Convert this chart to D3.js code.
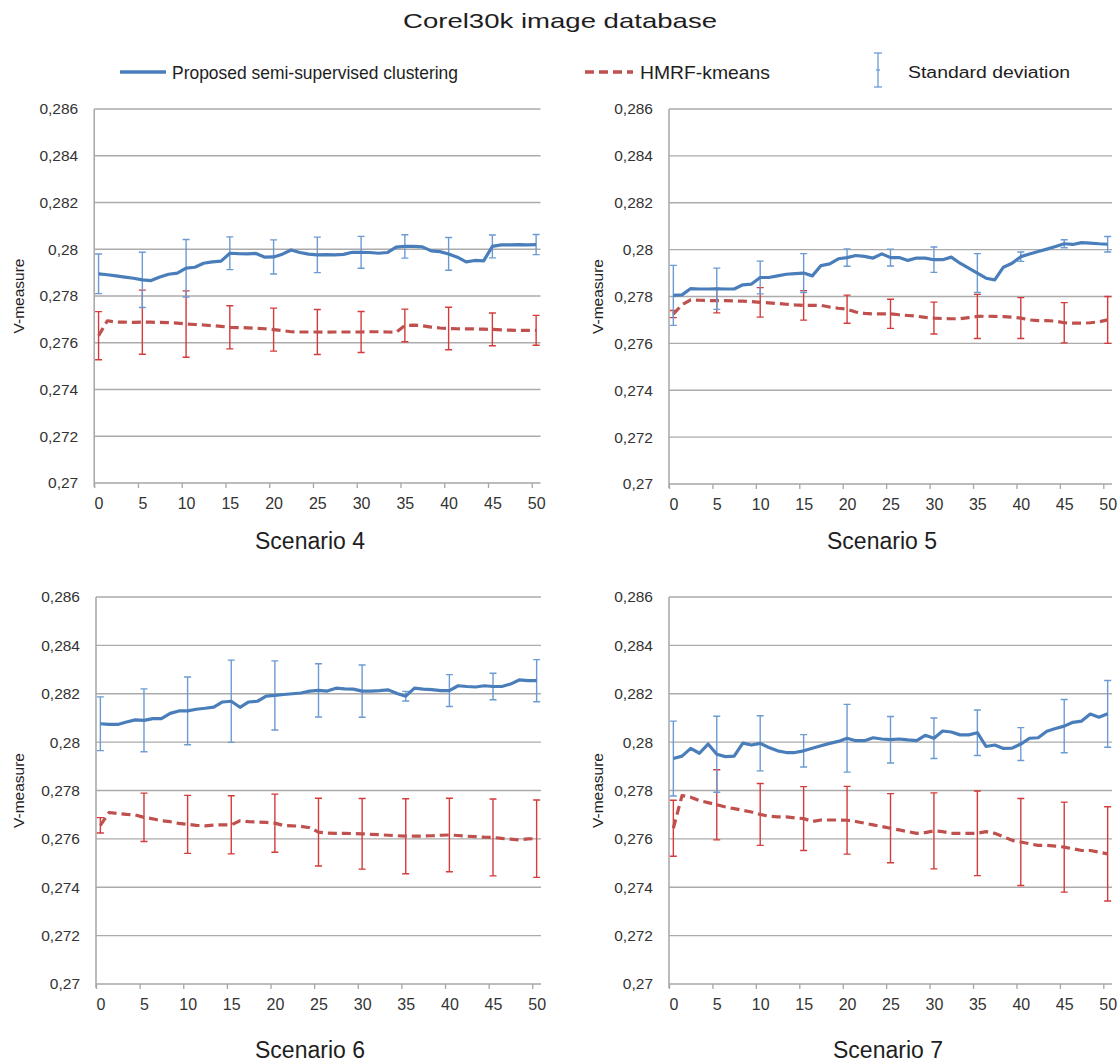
<!DOCTYPE html>
<html>
<head>
<meta charset="utf-8">
<script src="https://cdn.jsdelivr.net/npm/d3@7"></script>
<style>
  html, body { margin: 0; padding: 0; background: #fff; }
  svg { display: block; font-family: "Liberation Sans", Arial, sans-serif; }
</style>
</head>
<body>
<svg id="chart" width="1119" height="1063"></svg>
<script>
// ---- data ---------------------------------------------------------------
// number of constraints (x axis categories)
const steps = d3.range(0, 51);
// positions where standard-deviation bars are drawn
const errorSteps = [0, 5, 10, 15, 20, 25, 30, 35, 40, 45, 50];
const xTickLabels = ["0", "5", "10", "15", "20", "25", "30", "35", "40", "45", "50"];
const yTickValues = [0.27, 0.272, 0.274, 0.276, 0.278, 0.28, 0.282, 0.284, 0.286];
const yTickLabels = ["0,27", "0,272", "0,274", "0,276", "0,278", "0,28", "0,282", "0,284", "0,286"];
const scenarioNames = ["Scenario 4", "Scenario 5", "Scenario 6", "Scenario 7"];
const seriesNames = ["Proposed semi-supervised clustering", "HMRF-kmeans", "Standard deviation"];

// Scenario 4
const proposed4 = [0.27895, 0.27891, 0.27886, 0.27881, 0.27876, 0.27869, 0.27866, 0.27881, 0.27893, 0.27898,
  0.27919, 0.27923, 0.2794, 0.27946, 0.27949, 0.27983, 0.27981, 0.2798, 0.27982, 0.27966,
  0.27967, 0.27979, 0.27997, 0.27986, 0.27979, 0.27976, 0.27977, 0.27976, 0.27978, 0.27987,
  0.27987, 0.27986, 0.27983, 0.27986, 0.28009, 0.28012, 0.28012, 0.2801, 0.27993, 0.2799,
  0.2798, 0.27966, 0.27946, 0.27952, 0.2795, 0.28012, 0.28019, 0.28019, 0.2802, 0.28019, 0.2802];
const hmrf4 = [0.2763, 0.27694, 0.27688, 0.27688, 0.27687, 0.27688, 0.27688, 0.27687, 0.27686, 0.27684,
  0.2768, 0.27678, 0.27676, 0.27673, 0.2767, 0.27666, 0.27665, 0.27664, 0.27662, 0.2766,
  0.27656, 0.27652, 0.27647, 0.27646, 0.27646, 0.27646, 0.27645, 0.27646, 0.27646, 0.27646,
  0.27646, 0.27647, 0.27647, 0.27646, 0.27645, 0.27674, 0.27675, 0.27673, 0.27667, 0.27663,
  0.27661, 0.2766, 0.27659, 0.27659, 0.27658, 0.27657, 0.27655, 0.27654, 0.27653, 0.27653, 0.27653];
const proposedStd4 = [0.00085, 0.00118, 0.00123, 0.0007, 0.00073, 0.00076, 0.00068, 0.0005, 0.0007, 0.00049, 0.00043];
const hmrfStd4 = [0.00103, 0.00137, 0.00142, 0.00092, 0.00092, 0.00096, 0.00088, 0.0007, 0.00091, 0.0007, 0.00064];

// Scenario 5
const proposed5 = [0.27805, 0.27807, 0.27834, 0.27832, 0.27832, 0.27833, 0.27832, 0.27832, 0.2785, 0.27853,
  0.27881, 0.27881, 0.27888, 0.27895, 0.27898, 0.279, 0.27888, 0.27932, 0.27939, 0.27961,
  0.27966, 0.27975, 0.27971, 0.27964, 0.27982, 0.27966, 0.27966, 0.27954, 0.27964, 0.27964,
  0.27957, 0.27957, 0.27968, 0.27942, 0.27921, 0.279, 0.27878, 0.27871, 0.27925, 0.27942,
  0.2797, 0.27981, 0.27992, 0.28002, 0.28013, 0.28025, 0.28022, 0.2803, 0.28028, 0.28025, 0.28023];
const hmrf5 = [0.27725, 0.27765, 0.27786, 0.27784, 0.27783, 0.27782, 0.27782, 0.27781, 0.2778, 0.27778,
  0.27775, 0.27773, 0.2777, 0.27767, 0.27764, 0.27762, 0.27762, 0.27762, 0.27755, 0.2775,
  0.27746, 0.27734, 0.27728, 0.27726, 0.27726, 0.27726, 0.27722, 0.27719, 0.27716, 0.27711,
  0.27708, 0.27706, 0.27705, 0.27705, 0.2771, 0.27715, 0.27716, 0.27715, 0.27714, 0.27712,
  0.27708, 0.277, 0.27697, 0.27697, 0.27695, 0.27688, 0.27686, 0.27686, 0.27688, 0.27692, 0.277];
const proposedStd5 = [0.00128, 0.00088, 0.0007, 0.00083, 0.00037, 0.00036, 0.00054, 0.00083, 0.0002, 0.00017, 0.00033];
const hmrfStd5 = [0.00015, 0.00052, 0.00063, 0.00063, 0.0006, 0.00062, 0.00068, 0.00094, 0.00087, 0.00086, 0.001];

// Scenario 6
const proposed6 = [0.28076, 0.28073, 0.28073, 0.28083, 0.28092, 0.2809, 0.28097, 0.28097, 0.28119, 0.28129,
  0.28129, 0.28136, 0.2814, 0.28145, 0.28166, 0.28169, 0.28144, 0.28166, 0.28169, 0.2819,
  0.28193, 0.28197, 0.282, 0.28203, 0.28211, 0.28214, 0.28211, 0.28223, 0.2822, 0.28219,
  0.28211, 0.28211, 0.28213, 0.28216, 0.28201, 0.2819, 0.28223, 0.28219, 0.28217, 0.28213,
  0.28213, 0.28233, 0.2823, 0.28228, 0.28233, 0.2823, 0.2823, 0.2824, 0.28257, 0.28254, 0.28254];
const hmrf6 = [0.27656, 0.27709, 0.27705, 0.27701, 0.27699, 0.27689, 0.27683, 0.27675, 0.27671, 0.27664,
  0.2766, 0.27656, 0.27654, 0.27657, 0.27658, 0.27658, 0.27675, 0.27671, 0.2767, 0.27668,
  0.27665, 0.27655, 0.27654, 0.27652, 0.27646, 0.27628, 0.27624, 0.27623, 0.27623, 0.27622,
  0.27621, 0.27619, 0.27617, 0.27615, 0.27613, 0.27611, 0.27611, 0.27612, 0.27613, 0.27615,
  0.27616, 0.27614, 0.27611, 0.27609, 0.27607, 0.27606, 0.27602, 0.27599, 0.27596, 0.276, 0.27601];
const proposedStd6 = [0.00111, 0.0013, 0.0014, 0.0017, 0.00143, 0.0011, 0.00108, 0.0002, 0.00066, 0.00055, 0.00087];
const hmrfStd6 = [0.00032, 0.001, 0.0012, 0.0012, 0.0012, 0.0014, 0.00146, 0.00155, 0.00152, 0.00159, 0.0016];

// Scenario 7
const proposed7 = [0.27932, 0.27942, 0.27974, 0.27954, 0.27992, 0.2795, 0.2794, 0.27942, 0.27996, 0.27988,
  0.27995, 0.27978, 0.27964, 0.27957, 0.27957, 0.27964, 0.27975, 0.27985, 0.27995, 0.28003,
  0.28016, 0.28006, 0.28006, 0.28018, 0.28013, 0.2801, 0.28013, 0.28009, 0.28006, 0.28028,
  0.28016, 0.28046, 0.28042, 0.2803, 0.2803, 0.28039, 0.27982, 0.27988, 0.27974, 0.27975,
  0.27992, 0.28016, 0.28018, 0.28045, 0.28056, 0.28066, 0.28082, 0.28087, 0.28116, 0.28103, 0.28117];
const hmrf7 = [0.27644, 0.27779, 0.27772, 0.27758, 0.2775, 0.27741, 0.27732, 0.27725, 0.27718, 0.27711,
  0.27701, 0.27694, 0.27691, 0.27691, 0.27687, 0.27684, 0.27672, 0.27678, 0.27678, 0.27678,
  0.27677, 0.27672, 0.27665, 0.27658, 0.27651, 0.27644, 0.27637, 0.2763, 0.27623, 0.27626,
  0.27633, 0.2763, 0.27623, 0.27623, 0.27623, 0.27623, 0.2763, 0.27623, 0.27609, 0.27594,
  0.27587, 0.2758, 0.27573, 0.27573, 0.2757, 0.27566, 0.27559, 0.27552, 0.27552, 0.27545, 0.27538];
const proposedStd7 = [0.00155, 0.00157, 0.00114, 0.00067, 0.0014, 0.00096, 0.00084, 0.00094, 0.00068, 0.0011, 0.00138];
const hmrfStd7 = [0.00116, 0.00145, 0.00128, 0.00132, 0.0014, 0.00143, 0.00157, 0.00175, 0.0018, 0.00186, 0.00195];

// ---- styling / layout ----------------------------------------------------
const BLUE = "#4a7ebb", BLUE_ERR = "#6c9bd4";
const RED = "#c0504d", RED_ERR = "#d43b3b";
const GRID = "#ababab", AXIS = "#a6a6a6";
const TEXT = "#1e1e1e", TICK_TEXT = "#333333";

const panels = [
  { name: scenarioNames[0], proposed: proposed4, hmrf: hmrf4, pStd: proposedStd4, hStd: hmrfStd4,
    left: 94.2, right: 540.5, top: 109, bottom: 483, yLabelX: 18, titleX: 310, titleY: 549 },
  { name: scenarioNames[1], proposed: proposed5, hmrf: hmrf5, pStd: proposedStd5, hStd: hmrfStd5,
    left: 669, right: 1112, top: 109, bottom: 484, yLabelX: 597, titleX: 882, titleY: 549 },
  { name: scenarioNames[2], proposed: proposed6, hmrf: hmrf6, pStd: proposedStd6, hStd: hmrfStd6,
    left: 96, right: 541, top: 597, bottom: 984, yLabelX: 18, titleX: 310, titleY: 1058 },
  { name: scenarioNames[3], proposed: proposed7, hmrf: hmrf7, pStd: proposedStd7, hStd: hmrfStd7,
    left: 669, right: 1112, top: 597, bottom: 984, yLabelX: 597, titleX: 888, titleY: 1058 }
];

const svg = d3.select("#chart");

// ---- heading and legend -------------------------------------------------
svg.append("text")
  .attr("x", 560).attr("y", 28)
  .attr("text-anchor", "middle")
  .attr("font-size", 21).attr("fill", TEXT)
  .attr("textLength", 314).attr("lengthAdjust", "spacingAndGlyphs")
  .text("Corel30k image database");

const legend = svg.append("g");
legend.append("line").attr("x1", 120).attr("x2", 166).attr("y1", 72).attr("y2", 72)
  .attr("stroke", BLUE).attr("stroke-width", 3.5);
legend.append("text").attr("x", 172).attr("y", 79).attr("font-size", 19).attr("fill", TEXT)
  .attr("textLength", 286).attr("lengthAdjust", "spacingAndGlyphs").text(seriesNames[0]);
legend.append("line").attr("x1", 585).attr("x2", 633).attr("y1", 72).attr("y2", 72)
  .attr("stroke", RED).attr("stroke-width", 3.5).attr("stroke-dasharray", "9,5");
legend.append("text").attr("x", 640).attr("y", 79).attr("font-size", 19).attr("fill", TEXT)
  .attr("textLength", 130).attr("lengthAdjust", "spacingAndGlyphs").text(seriesNames[1]);
const lgErr = legend.append("g").attr("stroke", BLUE_ERR).attr("stroke-width", 1.3);
lgErr.append("line").attr("x1", 878).attr("x2", 878).attr("y1", 53).attr("y2", 87);
lgErr.append("line").attr("x1", 874).attr("x2", 882).attr("y1", 53).attr("y2", 53);
lgErr.append("line").attr("x1", 874).attr("x2", 882).attr("y1", 87).attr("y2", 87);
lgErr.append("line").attr("x1", 876).attr("x2", 880).attr("y1", 70).attr("y2", 70);
legend.append("text").attr("x", 908).attr("y", 78).attr("font-size", 16).attr("fill", TEXT)
  .attr("textLength", 162).attr("lengthAdjust", "spacingAndGlyphs").text(seriesNames[2]);

// ---- one panel per scenario ---------------------------------------------
panels.forEach(p => {
  const g = svg.append("g");
  const x = d3.scaleLinear().domain([-0.5, 50.5]).range([p.left, p.right]);
  const y = d3.scaleLinear().domain([0.27, 0.286]).range([p.bottom, p.top]);

  // horizontal gridlines
  g.append("g").selectAll("line")
    .data(yTickValues.slice(1))
    .join("line")
    .attr("x1", p.left).attr("x2", p.right)
    .attr("y1", d => y(d)).attr("y2", d => y(d))
    .attr("stroke", GRID).attr("stroke-width", 1.3);

  // y axis with comma-decimal labels
  const yAxis = d3.axisLeft(y)
    .tickValues(yTickValues)
    .tickSize(0).tickPadding(16)
    .tickFormat((d, i) => yTickLabels[i]);
  const yg = g.append("g").attr("transform", `translate(${p.left},0)`).call(yAxis);
  yg.select(".domain").attr("stroke", AXIS).attr("stroke-width", 1.5)
    .attr("d", `M0,${p.top}V${p.bottom + 4}`);
  yg.selectAll("text").attr("font-size", 15.5).attr("fill", TICK_TEXT)
    .attr("font-family", "'Liberation Sans', Arial, sans-serif");

  // x axis: tick marks on category boundaries, labels under categories
  const xMarks = d3.axisBottom(x)
    .tickValues(d3.range(-0.5, 50, 5))
    .tickSize(5).tickFormat("");
  const xmg = g.append("g").attr("transform", `translate(0,${p.bottom})`).call(xMarks);
  xmg.select(".domain").attr("stroke", AXIS).attr("stroke-width", 1.5)
    .attr("d", `M${p.left},0H${p.right}`);
  xmg.selectAll(".tick line").attr("stroke", AXIS).attr("stroke-width", 1.3);

  const xLabels = d3.axisBottom(x)
    .tickValues(errorSteps)
    .tickSize(0).tickPadding(15)
    .tickFormat((d, i) => xTickLabels[i]);
  const xlg = g.append("g").attr("transform", `translate(0,${p.bottom})`).call(xLabels);
  xlg.select(".domain").remove();
  xlg.selectAll("text").attr("font-size", 16).attr("fill", TICK_TEXT)
    .attr("font-family", "'Liberation Sans', Arial, sans-serif");

  // y axis title
  g.append("text")
    .attr("transform", `translate(${p.yLabelX},${(p.top + p.bottom) / 2}) rotate(-90)`)
    .attr("text-anchor", "middle").attr("dominant-baseline", "central")
    .attr("font-size", 15.5).attr("fill", TEXT)
    .text("V-measure");

  // scenario caption
  g.append("text")
    .attr("x", p.titleX).attr("y", p.titleY)
    .attr("text-anchor", "middle")
    .attr("font-size", 23).attr("fill", TEXT)
    .attr("textLength", 110).attr("lengthAdjust", "spacingAndGlyphs")
    .text(p.name);

  const line = d3.line().x((d, i) => x(steps[i])).y(d => y(d));

  // standard-deviation bars
  function errorBars(values, std, color) {
    const eg = g.append("g").attr("stroke", color).attr("stroke-width", 1.4).attr("fill", "none");
    const rows = errorSteps.map((s, i) => ({ s, v: values[s], e: std[i] }));
    eg.selectAll("path.bar").data(rows).join("path").attr("class", "bar")
      .attr("d", d => {
        const cx = x(d.s), y1 = y(d.v + d.e), y2 = y(d.v - d.e);
        return `M${cx},${y1}V${y2}M${cx - 3.5},${y1}H${cx + 3.5}M${cx - 3.5},${y2}H${cx + 3.5}`;
      });
  }

  // HMRF-kmeans (dashed red)
  errorBars(p.hmrf, p.hStd, RED_ERR);
  g.append("path").datum(p.hmrf)
    .attr("d", line).attr("fill", "none")
    .attr("stroke", RED).attr("stroke-width", 3.2)
    .attr("stroke-dasharray", "9,5").attr("stroke-linejoin", "round");

  // proposed method (solid blue)
  errorBars(p.proposed, p.pStd, BLUE_ERR);
  g.append("path").datum(p.proposed)
    .attr("d", line).attr("fill", "none")
    .attr("stroke", BLUE).attr("stroke-width", 3.2)
    .attr("stroke-linejoin", "round");
});
</script>
</body>
</html>
